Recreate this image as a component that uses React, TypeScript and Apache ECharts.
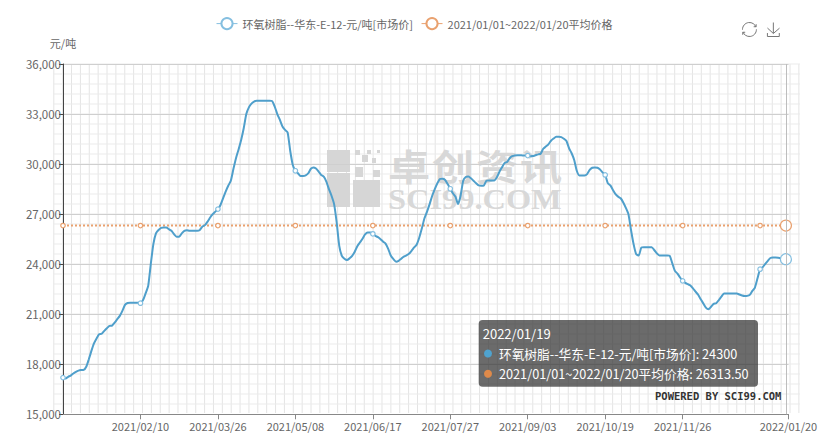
import React, { useEffect, useRef } from "react";
import * as echarts from "echarts";

const FONT = '"Noto Sans CJK SC", "Noto Sans", sans-serif';

const tickEvery = 30;
const tickLabels = ["2021/02/10", "2021/03/26", "2021/05/08", "2021/06/17", "2021/07/27", "2021/09/03", "2021/10/19", "2021/11/26"];
const firstDate = "2021/01/01";
const lastPointDate = "2022/01/19";
const lastAxisDate = "2022/01/20";
const categoryCount = 282;

const priceName = "环氧树脂--华东-E-12-元/吨[市场价]";
const avgName = "2021/01/01~2022/01/20平均价格";
const avgPrice = 26313.5;
const yTicks = { min: 15000, max: 36000, step: 3000 };

const prices = [
  17200, 17150, 17250, 17320, 17450, 17550, 17620, 17650, 17660, 17850,
  18300, 18800, 19250, 19550, 19800, 19830, 20000, 20160, 20300, 20320,
  20500, 20700, 20900, 21200, 21560, 21670, 21680, 21680, 21680, 21680,
  21660, 21850, 22250, 22700, 24000, 25200, 25850, 26050, 26180, 26200,
  26200, 26100, 26000, 25800, 25650, 25650, 25850, 26000, 26030, 26000,
  26000, 26000, 26000, 26050, 26260, 26340, 26550, 26800, 27000, 27150,
  27300, 27550, 27950, 28350, 28700, 29000, 29700, 30350, 30880, 31450,
  32150, 33000, 33400, 33620, 33750, 33800, 33800, 33800, 33800, 33800,
  33800, 33770, 33450, 33000, 32650, 32250, 32050, 31900, 30800, 29950,
  29600, 29450, 29280, 29280, 29320, 29450, 29720, 29800, 29730, 29550,
  29350, 29250, 28950, 28500, 28100, 27600, 26500, 25100, 24500, 24330,
  24250, 24350, 24500, 24750, 25080, 25300, 25520, 25780, 25900, 25900,
  25820, 25700, 25620, 25500, 25350, 25220, 24900, 24500, 24300, 24150,
  24200, 24330, 24450, 24530, 24620, 24800, 25000, 25180, 25600, 26150,
  26750, 27150, 27600, 28100, 28500, 28850, 29100, 29120, 29050, 28800,
  28520, 28250, 28050, 27600, 28100, 29000, 29230, 29250, 29150, 29000,
  28850, 28720, 28700, 28720, 29000, 29020, 29020, 29020, 29200, 29530,
  29800, 30060, 30120, 30350, 30470, 30520, 30530, 30530, 30520, 30520,
  30510, 30470, 30480, 30530, 30580, 30620, 30920, 31050, 31180, 31400,
  31530, 31640, 31640, 31620, 31520, 31380, 30950, 30650, 30250, 29600,
  29320, 29320, 29320, 29400, 29650, 29780, 29800, 29780, 29670, 29500,
  29350, 28860, 28720, 28450, 28200, 28050, 27950, 27700, 27380, 27000,
  26050, 25200, 24600, 24520, 25000, 25020, 25020, 25020, 25020, 24850,
  24650, 24520, 24520, 24520, 24520, 24500, 24050, 23600, 23430, 23200,
  23000, 22880, 22800, 22720, 22550, 22350, 22170, 21900, 21650, 21400,
  21300, 21450, 21620, 21660, 21850, 22050, 22240, 22240, 22240, 22240,
  22240, 22240, 22180, 22120, 22090, 22100, 22160, 22400, 22600, 23150,
  23700, 23820, 24020, 24200, 24370, 24400, 24400, 24380, 24350, 24310,
  24300,
];

// Category axis: only the dates the picture prints carry a name.
const categories = Array.from({ length: categoryCount }, (_, i) => {
  if (i === 0) return firstDate;
  if (i === categoryCount - 2) return lastPointDate;
  if (i === categoryCount - 1) return lastAxisDate;
  if (i % tickEvery === 0) return tickLabels[i / tickEvery - 1] ?? "";
  return "";
});
const averages = prices.map(() => avgPrice);

const lastIndex = prices.length - 1;
const BLUE = "#4f9fcb";
const BLUE_LIGHT = "#85bfe0";
const ORANGE = "#e9a16f";

const showsTick = (i: number) => i === categoryCount - 1 || (i > 0 && i % tickEvery === 0 && tickLabels[i / tickEvery - 1] !== undefined);
const markerSize = (_: unknown, p: { dataIndex: number }) => (p.dataIndex === lastIndex ? 11 : p.dataIndex % tickEvery === 0 ? 4.5 : 0);

function backdrop() {
  const out: any[] = [];
  const left = 53.8, right = 800, top = 64, bottom = 413;
  for (let x = left; x <= right; x += 8.87) {
    out.push({ type: "line", z: -2, silent: true, shape: { x1: x, y1: top, x2: x, y2: bottom }, style: { stroke: "#e4e4e4", lineWidth: 1 } });
  }
  for (let y = top; y <= bottom; y += 10) {
    out.push({ type: "line", z: -2, silent: true, shape: { x1: left, y1: y, x2: right, y2: y }, style: { stroke: "#ebebeb", lineWidth: 1 } });
  }
  const logo = [
    [327, 150, 23, 22], [327, 173, 23, 34], [353, 180, 27, 27], [355, 167, 8, 10], [373, 170, 7, 7],
    [355, 150, 5, 5], [367, 150, 4, 4], [377, 150, 3, 3], [362, 155, 6, 7], [372, 158, 4, 5],
  ];
  logo.forEach(([x, y, width, height]) => {
    out.push({ type: "rect", z: -1, silent: true, shape: { x, y, width, height }, style: { fill: "#d6d6d6" } });
  });
  Array.from("卓创资讯").forEach((ch, i) => {
    out.push({ type: "text", z: -1, silent: true, x: 388 + i * 44, y: 147, scaleX: 1.17, style: { text: ch, font: `bold 36px ${FONT}`, fill: "#d8d8d8" } });
  });
  out.push({ type: "text", z: -1, silent: true, x: 388, y: 183.5, scaleX: 1.08, style: { text: "SCI99.COM", font: 'bold 30px "Liberation Serif", serif', fill: "#d8d8d8" } });
  return out;
}

function readout() {
  const z = 50;
  const rows = [
    { text: `${priceName}: ${prices[lastIndex]}`, y: 353.5, dot: "#4fa3cf" },
    { text: `${avgName}: ${avgPrice.toFixed(2)}`, y: 373.7, dot: "#df8a4a" },
  ];
  return [
    { type: "rect", z, silent: true, shape: { x: 478.7, y: 320, width: 279.3, height: 66.7, r: 4 }, style: { fill: "rgba(50,50,50,0.72)" } },
    { type: "text", z: z + 1, silent: true, x: 482.7, y: 333.5, style: { text: lastPointDate, font: `13px ${FONT}`, fill: "#fff", verticalAlign: "middle" } },
    ...rows.flatMap((r) => [
      { type: "circle", z: z + 1, silent: true, shape: { cx: 488, cy: r.y, r: 4 }, style: { fill: r.dot } },
      { type: "text", z: z + 1, silent: true, x: 499, y: r.y, style: { text: r.text, font: `12.7px ${FONT}`, fill: "#fff", verticalAlign: "middle" } },
    ]),
    { type: "text", z: z + 1, silent: true, x: 655, y: 396, style: { text: "POWERED BY SCI99.COM", font: 'bold 10.5px "DejaVu Sans Mono", monospace', fill: "#333", verticalAlign: "middle" } },
  ];
}

export default function App() {
  const ref = useRef<HTMLDivElement>(null);
  useEffect(() => {
    const chart = echarts.init(ref.current!, undefined, { renderer: "svg" });
    chart.setOption({
      animation: false,
      textStyle: { fontFamily: FONT },
      grid: { left: 63, right: 42.5, top: 64, bottom: 31.7 },
      legend: {
        left: 211,
        top: 12,
        itemWidth: 21,
        itemHeight: 14,
        itemGap: 8,
        textStyle: { color: "#666", fontSize: 11, fontFamily: FONT },
        data: [
          { name: priceName, lineStyle: { color: BLUE_LIGHT, width: 1, type: "solid" } },
          { name: avgName, lineStyle: { color: ORANGE, width: 1, type: "solid" } },
        ],
      },
      toolbox: {
        right: 34,
        top: 5,
        itemSize: 14,
        itemGap: 6,
        iconStyle: { borderColor: "#777" },
        feature: { restore: {}, saveAsImage: {} },
      },
      xAxis: {
        type: "category",
        boundaryGap: false,
        data: categories,
        axisLine: { lineStyle: { color: "#888" } },
        axisTick: { length: 5, interval: (i: number) => showsTick(i), lineStyle: { color: "#888" } },
        axisLabel: { interval: (i: number) => showsTick(i), color: "#666", fontSize: 11, margin: 6, fontFamily: FONT, hideOverlap: false },
        splitLine: { show: false },
      },
      yAxis: {
        type: "value",
        min: yTicks.min,
        max: yTicks.max,
        interval: yTicks.step,
        name: "元/吨",
        nameGap: 16,
        nameTextStyle: { color: "#666", fontSize: 11, fontFamily: FONT },
        axisLine: { show: true, lineStyle: { color: "#444" } },
        axisTick: { show: true, length: 4, lineStyle: { color: "#444" } },
        axisLabel: { color: "#666", fontSize: 11.5, margin: 2, fontFamily: FONT },
        splitLine: { lineStyle: { color: "#cfcfcf" } },
      },
      series: [
        {
          name: priceName,
          type: "line",
          data: prices,
          smooth: 0.2,
          showAllSymbol: true,
          symbol: "circle",
          symbolSize: markerSize,
          lineStyle: { color: BLUE, width: 2 },
          itemStyle: { color: "#fff", borderColor: BLUE_LIGHT, borderWidth: 1.2 },
          markLine: {
            silent: true,
            symbol: "none",
            label: { show: false },
            lineStyle: { color: "#bdbdbd", type: "solid", width: 1 },
            data: [{ xAxis: categories[lastIndex] }],
          },
          z: 3,
        },
        {
          name: avgName,
          type: "line",
          data: averages,
          showAllSymbol: true,
          symbol: "circle",
          symbolSize: markerSize,
          lineStyle: { color: ORANGE, width: 2, type: "dotted" },
          itemStyle: { color: "#fff", borderColor: ORANGE, borderWidth: 1.2 },
          z: 2,
        },
      ],
      graphic: { elements: [...backdrop(), ...readout()] },
    });
    return () => chart.dispose();
  }, []);
  return <div ref={ref} style={{ position: "fixed", left: 0, top: 0, width: 831, height: 446, background: "#fff" }} />;
}
